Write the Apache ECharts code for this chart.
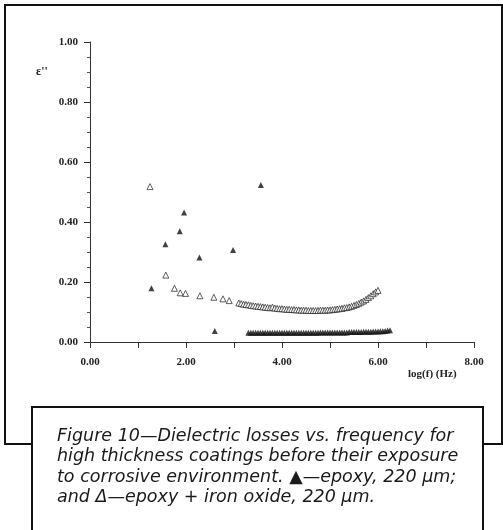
<!DOCTYPE html>
<html><head><meta charset="utf-8">
<script src="https://cdn.jsdelivr.net/npm/echarts@6/dist/echarts.min.js"></script>
<style>html,body{margin:0;padding:0;background:#fff}#c{width:503px;height:530px}</style>
</head><body><div id="c"></div>
<script>
// epoxy (filled triangles) - scattered low-frequency points
const epoxyX = [1.28, 1.57, 1.87, 1.96, 2.28, 2.60, 2.98, 3.56];
const epoxyY = [0.179, 0.326, 0.369, 0.432, 0.282, 0.037, 0.307, 0.523];
// epoxy dense high-frequency run
const epoxyDenseX = [3.30,3.35,3.40,3.45,3.50,3.55,3.60,3.65,3.70,3.75,3.80,3.85,3.90,3.95,4.00,4.05,4.10,4.15,4.20,4.25,4.30,4.35,4.40,4.45,4.50,4.55,4.60,4.65,4.70,4.75,4.80,4.85,4.90,4.95,5.00,5.05,5.10,5.15,5.20,5.25,5.30,5.35,5.40,5.45,5.50,5.55,5.60,5.65,5.70,5.75,5.80,5.85,5.90,5.95,6.00,6.05,6.10,6.15,6.20,6.25];
const epoxyDenseY = [0.031,0.031,0.031,0.031,0.031,0.031,0.031,0.031,0.031,0.031,0.031,0.031,0.031,0.031,0.031,0.031,0.031,0.031,0.031,0.031,0.031,0.031,0.031,0.031,0.031,0.031,0.031,0.031,0.031,0.031,0.032,0.032,0.032,0.032,0.032,0.032,0.032,0.032,0.032,0.032,0.032,0.032,0.033,0.033,0.033,0.033,0.033,0.033,0.034,0.034,0.034,0.034,0.035,0.035,0.035,0.036,0.036,0.037,0.038,0.039];
// epoxy + iron oxide (open triangles)
const oxideX = [1.25,1.58,1.76,1.88,1.99,2.29,2.58,2.77,2.90,3.10,3.15,3.20,3.25,3.30,3.35,3.40,3.45,3.50,3.55,3.60,3.65,3.70,3.75,3.80,3.85,3.90,3.95,4.00,4.05,4.10,4.15,4.20,4.25,4.30,4.35,4.40,4.45,4.50,4.55,4.60,4.65,4.70,4.75,4.80,4.85,4.90,4.95,5.00,5.05,5.10,5.15,5.20,5.25,5.30,5.35,5.40,5.45,5.50,5.55,5.60,5.65,5.70,5.75,5.80,5.85,5.90,5.95,6.00];
const oxideY = [0.518,0.223,0.179,0.164,0.162,0.154,0.149,0.144,0.138,0.130,0.128,0.126,0.125,0.124,0.122,0.121,0.120,0.119,0.118,0.117,0.116,0.115,0.114,0.116,0.113,0.112,0.111,0.111,0.110,0.109,0.109,0.108,0.108,0.107,0.107,0.106,0.106,0.106,0.105,0.105,0.105,0.105,0.105,0.106,0.106,0.106,0.107,0.107,0.108,0.109,0.110,0.111,0.112,0.114,0.115,0.117,0.119,0.122,0.125,0.129,0.133,0.137,0.142,0.148,0.154,0.161,0.167,0.172];
const xTicks = [0, 2, 4, 6, 8];
const yTicks = [0, 0.2, 0.4, 0.6, 0.8, 1.0];
const caption = [
  "Figure 10\u2014Dielectric losses vs. frequency for",
  "high thickness coatings before their exposure",
  "to corrosive environment. \u25B2\u2014epoxy, 220 \u00B5m;",
  "and \u0394\u2014epoxy + iron oxide, 220 \u00B5m."
];

const zip = (a, b) => a.map((v, i) => [v, b[i]]);
const ink = '#222';
const serif = 'Liberation Serif';

const chart = echarts.init(document.getElementById('c'), null, {renderer: 'canvas'});
const graphics = [
  {type: 'rect', shape: {x: 5, y: 5, width: 497, height: 439}, style: {fill: 'none', stroke: '#111', lineWidth: 2}, z: 0},
  {type: 'rect', shape: {x: 32, y: 407, width: 451, height: 140}, style: {fill: '#fff', stroke: '#111', lineWidth: 2}, z: 10},
  {type: 'text', left: 36, top: 66, style: {text: '\u03B5\'\'', font: 'bold 12px ' + serif, fill: ink}, z: 5},
  {type: 'text', left: 408, top: 369, style: {text: 'log(f) (Hz)', font: 'bold 11px ' + serif, fill: ink}, z: 5}
];
caption.forEach((t, i) => {
  graphics.push({type: 'text', left: 57, top: 427 + i * 20.5, style: {text: t, font: 'italic 17.5px "DejaVu Sans"', fill: '#1a1a1a'}, z: 11});
});

chart.setOption({
  animation: false,
  backgroundColor: '#fff',
  grid: {left: 90, right: 29, top: 42, bottom: 188},
  xAxis: {
    type: 'value', min: 0, max: 8, interval: 1,
    axisLine: {lineStyle: {color: '#333', width: 1}},
    axisTick: {show: true, length: 6, lineStyle: {color: '#333'}},
    minorTick: {show: false},
    splitLine: {show: false},
    axisLabel: {
      margin: 15, color: ink, fontFamily: serif, fontSize: 11, fontWeight: 'bold',
      formatter: v => xTicks.includes(v) ? v.toFixed(2) : ''
    }
  },
  yAxis: {
    type: 'value', min: 0, max: 1, interval: 0.2,
    axisLine: {show: true, lineStyle: {color: '#333', width: 1}},
    axisTick: {show: true, length: 6, lineStyle: {color: '#333'}},
    minorTick: {show: true, splitNumber: 4, length: 3, lineStyle: {color: '#555'}},
    splitLine: {show: false},
    axisLabel: {
      margin: 12, color: ink, fontFamily: serif, fontSize: 11, fontWeight: 'bold',
      formatter: v => yTicks.some(t => Math.abs(t - v) < 1e-6) ? v.toFixed(2) : ''
    }
  },
  series: [
    {type: 'scatter', data: zip(oxideX, oxideY), symbol: 'triangle', symbolSize: 6,
     itemStyle: {color: '#fff', borderColor: '#222', borderWidth: 0.9}},
    {type: 'scatter', data: zip(epoxyX, epoxyY), symbol: 'triangle', symbolSize: 6,
     itemStyle: {color: '#111'}},
    {type: 'scatter', data: zip(epoxyDenseX, epoxyDenseY), symbol: 'triangle', symbolSize: 6,
     itemStyle: {color: '#111'}}
  ],
  graphic: graphics
});
</script></body></html>
